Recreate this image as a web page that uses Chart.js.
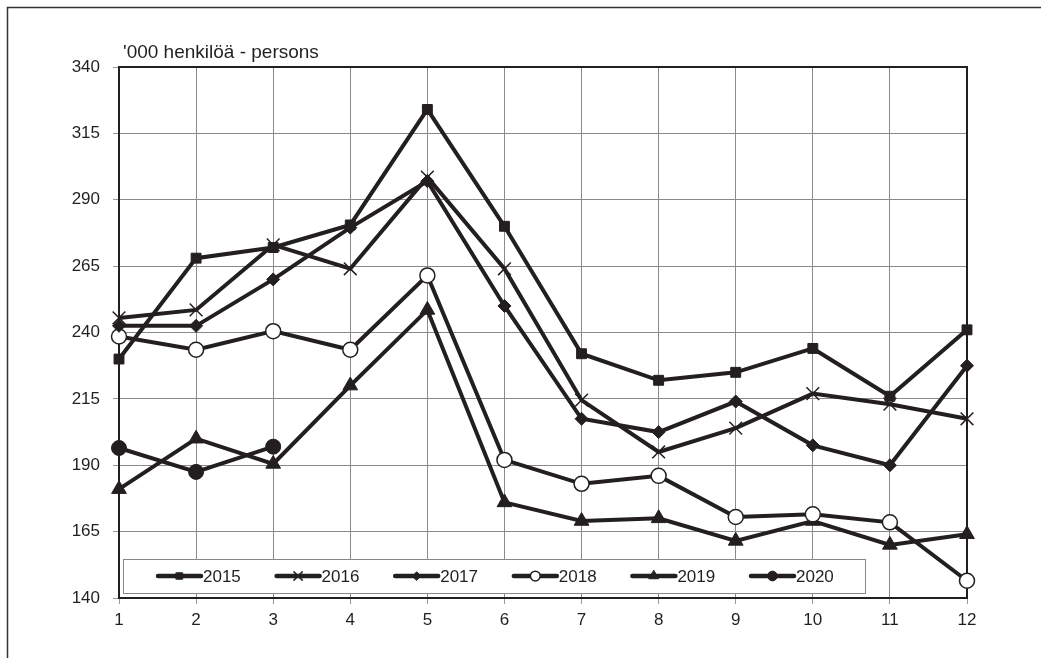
<!DOCTYPE html>
<html>
<head>
<meta charset="utf-8">
<script src="https://cdn.jsdelivr.net/npm/chart.js@4.4.1/dist/chart.umd.min.js"></script>
<style>
  html, body { margin: 0; padding: 0; background: #fff; }
  #wrap { width: 1041px; height: 658px; }
</style>
</head>
<body>
<div id="wrap"><canvas id="chart" width="1041" height="658"></canvas></div>
<script>
// ---------------------------
// DATA
// ---------------------------
const months = ['1', '2', '3', '4', '5', '6', '7', '8', '9', '10', '11', '12'];
const yTicks = [140, 165, 190, 215, 240, 265, 290, 315, 340];
const unitLabel = "'000 henkilöä - persons";

const years = ['2015', '2016', '2017', '2018', '2019', '2020'];
const v2015 = [230, 268, 272, 280.5, 324, 280, 232, 222, 225, 234, 216, 241];
const v2016 = [245.5, 248.5, 273, 264, 298.5, 264, 214.5, 195, 204, 217, 213, 207.5];
const v2017 = [242.5, 242.5, 260, 279.5, 297, 250, 207.5, 202.5, 214, 197.5, 190, 227.5];
const v2018 = [238.5, 233.5, 240.5, 233.5, 261.5, 192, 183, 186, 170.5, 171.5, 168.5, 146.5];
const v2019 = [181, 200, 190.5, 220, 248.5, 176, 169, 170, 161.5, 169, 160, 164];
const v2020 = [196.5, 187.5, 197];

const ink = '#231f20';
const fontFamily = '"Liberation Sans", Arial, sans-serif';

// marker style per year
const markerStyle = [
    { pointStyle: 'rect', radius: 7, fill: ink, bw: 1 },
    { pointStyle: 'crossRot', radius: 9, fill: ink, bw: 1.5 },
    { pointStyle: 'rectRot', radius: 6.5, fill: ink, bw: 1 },
    { pointStyle: 'circle', radius: 7.5, fill: '#fff', bw: 1.5 },
    { pointStyle: 'triangle', radius: 8.5, fill: ink, bw: 1 },
    { pointStyle: 'circle', radius: 7.5, fill: ink, bw: 1 }
];
const seriesValues = [v2015, v2016, v2017, v2018, v2019, v2020];

const datasets = years.map((year, i) => ({
    label: year,
    data: seriesValues[i],
    borderColor: ink,
    borderWidth: 4,
    tension: 0,
    fill: false,
    pointStyle: markerStyle[i].pointStyle,
    pointRadius: markerStyle[i].radius,
    pointHoverRadius: markerStyle[i].radius,
    pointBackgroundColor: markerStyle[i].fill,
    pointBorderColor: ink,
    pointBorderWidth: markerStyle[i].bw
}));

// Frame, unit label and legend box drawn around the library's chart area
const decorPlugin = {
    id: 'decor',
    beforeDraw(chart) {
        const ctx = chart.ctx;
        ctx.save();
        ctx.fillStyle = '#fff';
        ctx.fillRect(0, 0, chart.width, chart.height);
        // outer frame (top + left edge only, as in the cropped picture)
        ctx.strokeStyle = '#333';
        ctx.lineWidth = 1.5;
        ctx.beginPath();
        ctx.moveTo(7.5, chart.height);
        ctx.lineTo(7.5, 7.5);
        ctx.lineTo(chart.width, 7.5);
        ctx.stroke();
        // unit label
        ctx.fillStyle = ink;
        ctx.font = '19px ' + fontFamily;
        ctx.textBaseline = 'alphabetic';
        ctx.fillText(unitLabel, 123, 58);
        ctx.restore();
    },
    beforeDatasetsDraw(chart) {
        const { ctx, chartArea: a } = chart;
        ctx.save();
        ctx.strokeStyle = ink;
        ctx.lineWidth = 2;
        ctx.strokeRect(a.left, a.top, a.right - a.left, a.bottom - a.top);
        // legend box
        ctx.fillStyle = '#fff';
        ctx.fillRect(123, 559, 742, 34);
        ctx.strokeStyle = '#888';
        ctx.lineWidth = 1;
        ctx.strokeRect(123.5, 559.5, 742, 34);
        ctx.restore();
    },
    afterDatasetsDraw(chart) {
        const ctx = chart.ctx;
        ctx.save();
        const cy = 576;
        chart.data.datasets.forEach((ds, i) => {
            const x0 = 158 + i * 118.6;
            ctx.strokeStyle = ink;
            ctx.lineWidth = 4.5;
            ctx.lineCap = 'round';
            ctx.beginPath();
            ctx.moveTo(x0, cy);
            ctx.lineTo(x0 + 43, cy);
            ctx.stroke();
            ctx.fillStyle = ds.pointBackgroundColor;
            ctx.strokeStyle = ink;
            ctx.lineWidth = ds.pointBorderWidth;
            Chart.helpers.drawPoint(ctx, {
                pointStyle: ds.pointStyle,
                radius: ds.pointRadius * 0.65,
                rotation: 0,
                borderWidth: ds.pointBorderWidth
            }, x0 + 21.5, cy);
            ctx.fillStyle = ink;
            ctx.font = '17px ' + fontFamily;
            ctx.textBaseline = 'middle';
            ctx.textAlign = 'left';
            ctx.fillText(ds.label, x0 + 45, cy + 1);
        });
        ctx.restore();
    }
};

new Chart(document.getElementById('chart'), {
    type: 'line',
    data: { labels: months, datasets: datasets },
    options: {
        responsive: false,
        animation: false,
        layout: { padding: { left: 0, top: 67, right: 74, bottom: 0 } },
        plugins: {
            legend: { display: false },
            tooltip: { enabled: false },
            title: { display: false }
        },
        scales: {
            x: {
                offset: false,
                grid: {
                    color: '#8a8a8a',
                    lineWidth: 1,
                    borderDash: [1, 1],
                    tickColor: '#999',
                    tickLength: 6,
                    tickBorderDash: []
                },
                border: { display: false },
                ticks: {
                    color: ink,
                    font: { family: fontFamily, size: 17 },
                    padding: 6,
                    maxRotation: 0,
                    autoSkip: false
                },
                afterFit(scale) { scale.height = 60; }
            },
            y: {
                min: 140,
                max: 340,
                afterBuildTicks(scale) { scale.ticks = yTicks.map(v => ({ value: v })); },
                grid: {
                    color: '#8a8a8a',
                    lineWidth: 1,
                    borderDash: [1, 1],
                    tickColor: '#999',
                    tickLength: 6,
                    tickBorderDash: []
                },
                border: { display: false },
                ticks: {
                    color: ink,
                    font: { family: fontFamily, size: 17 },
                    padding: 13
                },
                afterFit(scale) { scale.width = 119; }
            }
        }
    },
    plugins: [decorPlugin]
});
</script>
</body>
</html>
